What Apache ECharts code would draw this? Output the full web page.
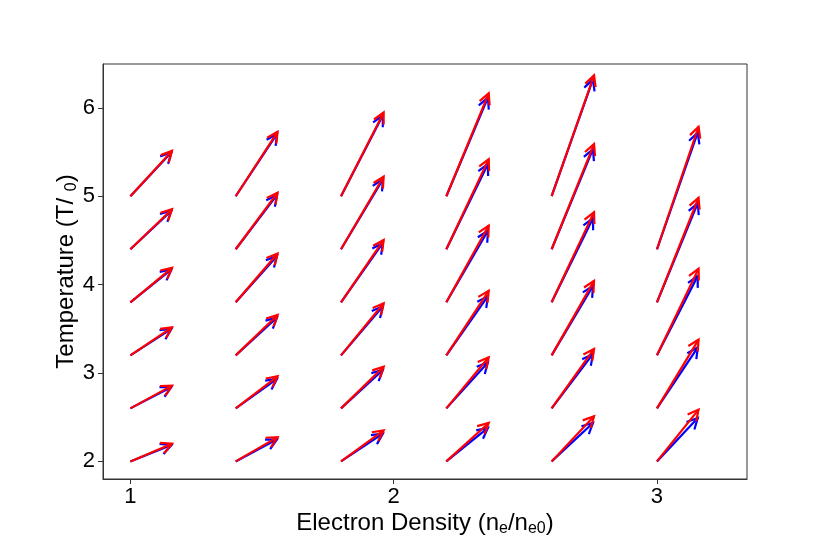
<!DOCTYPE html>
<html>
<head>
<meta charset="utf-8">
<script src="https://cdn.jsdelivr.net/npm/echarts@6/dist/echarts.min.js"></script>
<style>
  html, body { margin: 0; background: #fff; }
  #chart { width: 831px; height: 540px; }
</style>
</head>
<body>
<div id="chart"></div>
<script>
// arrow tails: one column per density, one row per temperature
var densities = [1.0, 1.4, 1.8, 2.2, 2.6, 3.0];
var temperatures = [2.0, 2.6, 3.2, 3.8, 4.4, 5.0];
var xTicks = [1, 2, 3];
var yTicks = [2, 3, 4, 5, 6];

// arrow components, per density column, bottom row first
var redDn = [0.158, 0.159, 0.162, 0.161, 0.161, 0.158];
var redDT = [
    [0.200, 0.257, 0.317, 0.390, 0.453, 0.513],
    [0.275, 0.363, 0.457, 0.552, 0.641, 0.729],
    [0.351, 0.471, 0.589, 0.706, 0.823, 0.948],
    [0.435, 0.578, 0.729, 0.868, 1.020, 1.164],
    [0.510, 0.673, 0.842, 1.020, 1.190, 1.368],
    [0.586, 0.778, 0.981, 1.183, 1.386, null]
];
var blueDn = [0.156, 0.157, 0.159, 0.158, 0.157, 0.155];
var blueDT = [
    [0.185, 0.242, 0.300, 0.372, 0.437, 0.497],
    [0.250, 0.335, 0.430, 0.525, 0.615, 0.705],
    [0.314, 0.435, 0.555, 0.672, 0.790, 0.915],
    [0.380, 0.520, 0.670, 0.810, 0.965, 1.115],
    [0.435, 0.616, 0.785, 0.952, 1.133, 1.322],
    [0.492, 0.691, 0.899, 1.122, 1.321, null]
];

var FONT = 'Liberation Sans';

function arrows(dn, dT) {
    var out = [];
    densities.forEach(function (n, i) {
        temperatures.forEach(function (t, j) {
            if (dT[i][j] == null) return;
            out.push([n, t, n + dn[i], t + dT[i][j]]);
        });
    });
    return out;
}

function drawArrow(color) {
    return function (params, api) {
        var a = api.coord([api.value(0), api.value(1)]);
        var b = api.coord([api.value(2), api.value(3)]);
        var ang = Math.atan2(b[1] - a[1], b[0] - a[0]);
        var head = 12, spread = 0.47;
        var l = [b[0] - head * Math.cos(ang - spread), b[1] - head * Math.sin(ang - spread)];
        var r = [b[0] - head * Math.cos(ang + spread), b[1] - head * Math.sin(ang + spread)];
        var st = { stroke: color, lineWidth: 2.2, fill: null };
        return {
            type: 'group',
            children: [
                { type: 'line', shape: { x1: a[0], y1: a[1], x2: b[0], y2: b[1] }, style: st },
                { type: 'polyline', shape: { points: [l, b, r] }, style: st }
            ]
        };
    };
}

var nameStyle = {
    fontFamily: FONT, fontSize: 24, color: '#000', lineHeight: 28,
    rich: { sub: { fontFamily: FONT, fontSize: 16, color: '#000', lineHeight: 15, verticalAlign: 'bottom' } }
};

var chart = echarts.init(document.getElementById('chart'));

var option = {
    animation: false,
    backgroundColor: '#fff',
    grid: {
        left: 103, right: 84, top: 64, bottom: 61,
        outerBoundsMode: 'none',
        containLabel: false,
        show: true, borderColor: '#333', borderWidth: 1
    },
    xAxis: {
        type: 'value',
        min: 0.896,
        max: 3.342,
        name: 'Electron Density (n{sub|e}/n{sub|e0})',
        nameLocation: 'middle',
        nameMoveOverlap: false,
        nameGap: 30,
        nameTextStyle: nameStyle,
        axisLine: { show: true, lineStyle: { color: '#333', width: 1 } },
        axisTick: { show: true, customValues: xTicks, length: 5, lineStyle: { color: '#333' } },
        axisLabel: { customValues: xTicks, fontFamily: FONT, fontSize: 22, color: '#000', margin: 7 },
        splitLine: { show: false }
    },
    yAxis: {
        type: 'value',
        min: 1.801,
        max: 6.496,
        name: 'Temperature (T/ {sub|0})',
        nameLocation: 'middle',
        nameMoveOverlap: false,
        nameGap: 23,
        nameTextStyle: nameStyle,
        axisLine: { show: true, lineStyle: { color: '#333', width: 1 } },
        axisTick: { show: true, customValues: yTicks, length: 5, lineStyle: { color: '#333' } },
        axisLabel: { customValues: yTicks, fontFamily: FONT, fontSize: 22, color: '#000', margin: 8 },
        splitLine: { show: false }
    },
    series: [
        {
            name: 'blue',
            type: 'custom',
            silent: true,
            renderItem: drawArrow('#0000ff'),
            encode: { x: [0, 2], y: [1, 3] },
            data: arrows(blueDn, blueDT)
        },
        {
            name: 'red',
            type: 'custom',
            silent: true,
            renderItem: drawArrow('#ff0000'),
            encode: { x: [0, 2], y: [1, 3] },
            data: arrows(redDn, redDT)
        }
    ]
};

chart.setOption(option);
</script>
</body>
</html>
